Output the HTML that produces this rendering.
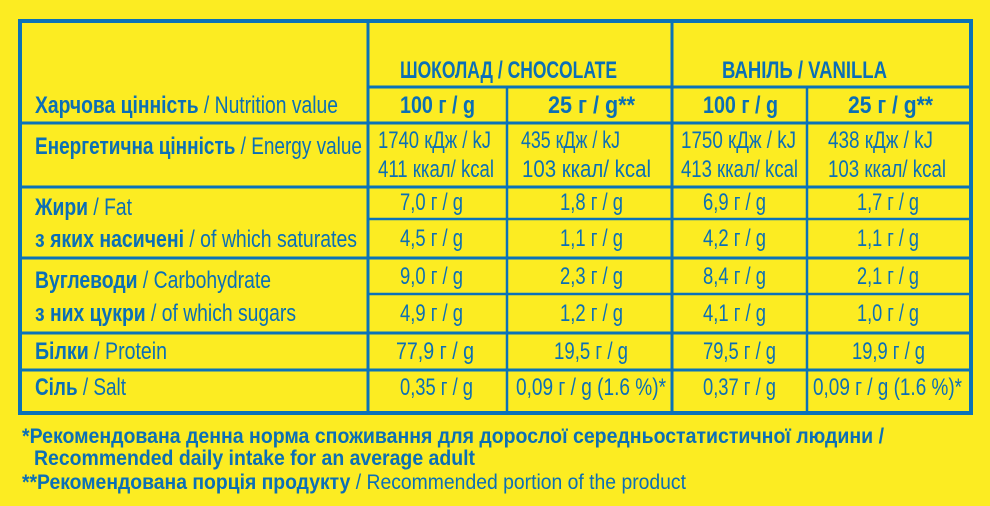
<!DOCTYPE html>
<html><head><meta charset="utf-8"><style>
html,body{margin:0;padding:0;background:#fcec22;}
svg{display:block}
text{font-family:"Liberation Sans Narrow","Liberation Sans",sans-serif;fill:#0b6fb6;font-size:24px}
.b{font-weight:bold}
</style></head><body>
<svg width="990" height="506" viewBox="0 0 990 506" xmlns="http://www.w3.org/2000/svg">
<rect width="990" height="506" fill="#fcec22"/>
<g stroke="#0b72b8" fill="none">
<rect x="20" y="21" width="951" height="392" stroke-width="4"/>
<line x1="368" y1="21" x2="368" y2="413" stroke-width="3"/>
<line x1="672" y1="21" x2="672" y2="413" stroke-width="3"/>
<line x1="507" y1="87" x2="507" y2="413" stroke-width="2.5"/>
<line x1="807" y1="87" x2="807" y2="413" stroke-width="2.5"/>
<line x1="368" y1="87" x2="971" y2="87" stroke-width="3"/>
<line x1="20" y1="123" x2="971" y2="123" stroke-width="3"/>
<line x1="20" y1="187" x2="971" y2="187" stroke-width="3"/>
<line x1="368" y1="219" x2="971" y2="219" stroke-width="2.5"/>
<line x1="20" y1="258" x2="971" y2="258" stroke-width="3"/>
<line x1="368" y1="294" x2="971" y2="294" stroke-width="2.5"/>
<line x1="20" y1="333" x2="971" y2="333" stroke-width="3"/>
<line x1="20" y1="370" x2="971" y2="370" stroke-width="3"/>
</g>
<g lengthAdjust="spacingAndGlyphs">
<text class="b" x="400" y="78" textLength="217" lengthAdjust="spacingAndGlyphs">ШОКОЛАД / CHOCOLATE</text>
<text class="b" x="722" y="78" textLength="165" lengthAdjust="spacingAndGlyphs">ВАНІЛЬ / VANILLA</text>
<text x="35" y="113" textLength="303" lengthAdjust="spacingAndGlyphs"><tspan class="b">Харчова цінність</tspan> / Nutrition value</text>
<text class="b" x="400" y="113" textLength="75" lengthAdjust="spacingAndGlyphs">100 г / g</text>
<text class="b" x="548" y="113" textLength="87" lengthAdjust="spacingAndGlyphs">25 г / g**</text>
<text class="b" x="703" y="113" textLength="75" lengthAdjust="spacingAndGlyphs">100 г / g</text>
<text class="b" x="848" y="113" textLength="85" lengthAdjust="spacingAndGlyphs">25 г / g**</text>

<text x="35" y="154" textLength="327" lengthAdjust="spacingAndGlyphs"><tspan class="b">Енергетична цінність</tspan> / Energy value</text>
<text x="378" y="148" textLength="113" lengthAdjust="spacingAndGlyphs">1740 кДж / kJ</text>
<text x="378" y="177" textLength="116" lengthAdjust="spacingAndGlyphs">411 ккал/ kcal</text>
<text x="521" y="148" textLength="99" lengthAdjust="spacingAndGlyphs">435 кДж / kJ</text>
<text x="522" y="177" textLength="129" lengthAdjust="spacingAndGlyphs">103 ккал/ kcal</text>
<text x="681" y="148" textLength="115" lengthAdjust="spacingAndGlyphs">1750 кДж / kJ</text>
<text x="681" y="177" textLength="117" lengthAdjust="spacingAndGlyphs">413 ккал/ kcal</text>
<text x="828" y="148" textLength="105" lengthAdjust="spacingAndGlyphs">438 кДж / kJ</text>
<text x="828" y="177" textLength="118" lengthAdjust="spacingAndGlyphs">103 ккал/ kcal</text>

<text x="35" y="215" textLength="97" lengthAdjust="spacingAndGlyphs"><tspan class="b">Жири</tspan> / Fat</text>
<text x="35" y="247" textLength="322" lengthAdjust="spacingAndGlyphs"><tspan class="b">з яких насичені</tspan> / of which saturates</text>
<text x="35" y="288" textLength="236" lengthAdjust="spacingAndGlyphs"><tspan class="b">Вуглеводи</tspan> / Carbohydrate</text>
<text x="35" y="321" textLength="261" lengthAdjust="spacingAndGlyphs"><tspan class="b">з них цукри</tspan> / of which sugars</text>
<text x="35" y="359" textLength="132" lengthAdjust="spacingAndGlyphs"><tspan class="b">Білки</tspan> / Protein</text>
<text x="35" y="395" textLength="91" lengthAdjust="spacingAndGlyphs"><tspan class="b">Сіль</tspan> / Salt</text>

<text x="400" y="210" textLength="63" lengthAdjust="spacingAndGlyphs">7,0 г / g</text>
<text x="560" y="210" textLength="63" lengthAdjust="spacingAndGlyphs">1,8 г / g</text>
<text x="703" y="210" textLength="63" lengthAdjust="spacingAndGlyphs">6,9 г / g</text>
<text x="857" y="210" textLength="62" lengthAdjust="spacingAndGlyphs">1,7 г / g</text>

<text x="400" y="246" textLength="63" lengthAdjust="spacingAndGlyphs">4,5 г / g</text>
<text x="560" y="246" textLength="63" lengthAdjust="spacingAndGlyphs">1,1 г / g</text>
<text x="703" y="246" textLength="63" lengthAdjust="spacingAndGlyphs">4,2 г / g</text>
<text x="857" y="246" textLength="62" lengthAdjust="spacingAndGlyphs">1,1 г / g</text>

<text x="400" y="284" textLength="63" lengthAdjust="spacingAndGlyphs">9,0 г / g</text>
<text x="560" y="284" textLength="63" lengthAdjust="spacingAndGlyphs">2,3 г / g</text>
<text x="703" y="284" textLength="63" lengthAdjust="spacingAndGlyphs">8,4 г / g</text>
<text x="857" y="284" textLength="62" lengthAdjust="spacingAndGlyphs">2,1 г / g</text>

<text x="400" y="321" textLength="63" lengthAdjust="spacingAndGlyphs">4,9 г / g</text>
<text x="560" y="321" textLength="63" lengthAdjust="spacingAndGlyphs">1,2 г / g</text>
<text x="703" y="321" textLength="63" lengthAdjust="spacingAndGlyphs">4,1 г / g</text>
<text x="857" y="321" textLength="62" lengthAdjust="spacingAndGlyphs">1,0 г / g</text>

<text x="396" y="359" textLength="78" lengthAdjust="spacingAndGlyphs">77,9 г / g</text>
<text x="554" y="359" textLength="74" lengthAdjust="spacingAndGlyphs">19,5 г / g</text>
<text x="703" y="359" textLength="73" lengthAdjust="spacingAndGlyphs">79,5 г / g</text>
<text x="852" y="359" textLength="73" lengthAdjust="spacingAndGlyphs">19,9 г / g</text>

<text x="400" y="395" textLength="73" lengthAdjust="spacingAndGlyphs">0,35 г / g</text>
<text x="516" y="395" textLength="150" lengthAdjust="spacingAndGlyphs">0,09 г / g (1.6 %)*</text>
<text x="703" y="395" textLength="73" lengthAdjust="spacingAndGlyphs">0,37 г / g</text>
<text x="813" y="395" textLength="149" lengthAdjust="spacingAndGlyphs">0,09 г / g (1.6 %)*</text>

<text class="b" x="22" y="443" style="font-size:21px" textLength="862" lengthAdjust="spacingAndGlyphs">*Рекомендована денна норма споживання для дорослої середньостатистичної людини /</text>
<text class="b" x="34" y="465" style="font-size:21px" textLength="441" lengthAdjust="spacingAndGlyphs">Recommended daily intake for an average adult</text>
<text x="22" y="489" style="font-size:21px" textLength="664" lengthAdjust="spacingAndGlyphs"><tspan class="b">**Рекомендована порція продукту</tspan> / Recommended portion of the product</text>
</g>
</svg>
</body></html>
